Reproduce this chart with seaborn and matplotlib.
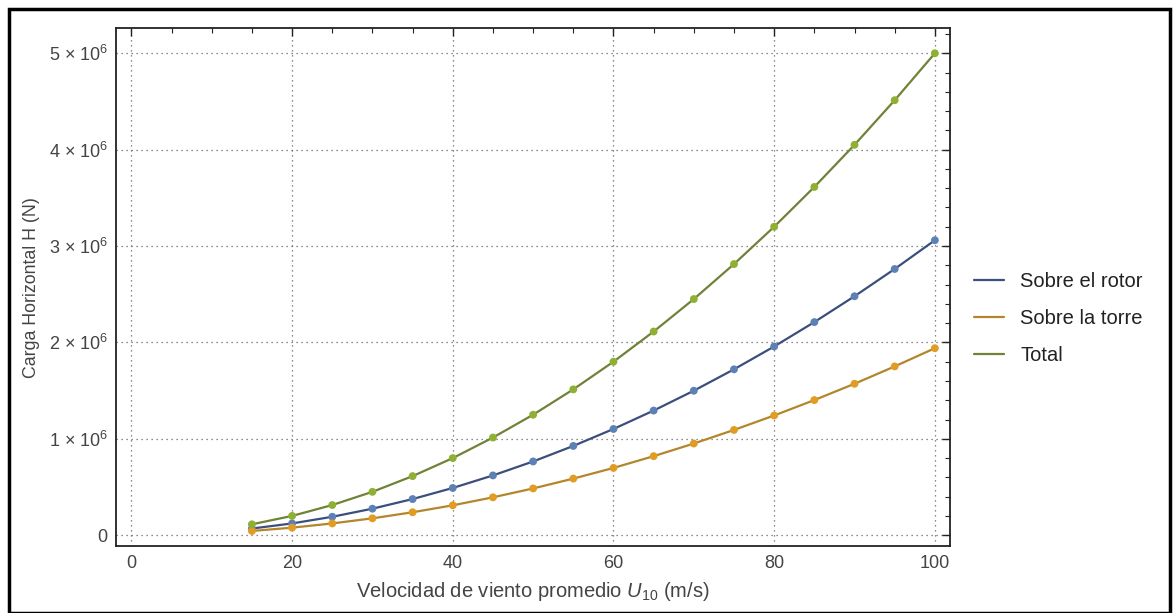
import pandas as pd
import seaborn as sns
import matplotlib.pyplot as plt
import matplotlib.ticker as mticker
from matplotlib.patches import Rectangle

# Data
velocidad = [15, 20, 25, 30, 35, 40, 45, 50, 55, 60,
             65, 70, 75, 80, 85, 90, 95, 100]

rotor = [0.069, 0.122, 0.191, 0.275, 0.375, 0.490, 0.620, 0.765, 0.926,
         1.102, 1.293, 1.499, 1.721, 1.958, 2.211, 2.479, 2.762, 3.060]

torre = [0.044, 0.078, 0.122, 0.175, 0.238, 0.310, 0.393, 0.485, 0.587,
         0.698, 0.820, 0.951, 1.092, 1.242, 1.402, 1.571, 1.751, 1.940]

total = [0.113, 0.200, 0.313, 0.450, 0.613, 0.800, 1.013, 1.250, 1.513,
         1.800, 2.113, 2.450, 2.813, 3.200, 3.613, 4.050, 4.513, 5.000]

series_names = ["Sobre el rotor", "Sobre la torre", "Total"]

line_colors = ["#3b4f7c", "#b3862c", "#6f8238"]
marker_colors = ["#5e81b5", "#e19c24", "#8fb032"]

df = pd.concat([
    pd.DataFrame({"U": velocidad, "H": [v * 1e6 for v in vals], "serie": name})
    for name, vals in zip(series_names, [rotor, torre, total])
])

sns.set_style("white")
plt.rcParams['font.family'] = ['Liberation Sans', 'DejaVu Sans']
plt.rcParams['mathtext.fontset'] = 'custom'
plt.rcParams['mathtext.rm'] = 'Liberation Sans'
plt.rcParams['mathtext.it'] = 'Liberation Sans:italic'

fig = plt.figure(figsize=(11.73, 6.13), dpi=100)
ax = fig.add_axes([0.099, 0.109, 0.711, 0.845])

sns.lineplot(
    data=df, x="U", y="H", hue="serie",
    palette=dict(zip(series_names, line_colors)),
    linewidth=1.6, ax=ax
)

sns.scatterplot(
    data=df, x="U", y="H", hue="serie",
    palette=dict(zip(series_names, marker_colors)),
    s=32, linewidth=0.0,
    legend=False, ax=ax, zorder=3
)

ax.set_xlim(-1.9, 101.9)
ax.set_ylim(-0.114e6, 5.26e6)

ax.xaxis.set_major_locator(mticker.MultipleLocator(20))
ax.xaxis.set_minor_locator(mticker.MultipleLocator(5))
ax.yaxis.set_major_locator(mticker.MultipleLocator(1e6))
ax.yaxis.set_minor_locator(mticker.MultipleLocator(0.2e6))


def fmt_y(v, pos):
    n = int(round(v / 1e6))
    if n == 0:
        return "0"
    return f"{n} \u00d7 10$^{{6}}$"


ax.yaxis.set_major_formatter(mticker.FuncFormatter(fmt_y))

ax.tick_params(which="both", direction="in", top=True, right=True,
               colors="#222222", labelcolor="#444444", labelsize=13)
ax.tick_params(which="major", length=6, width=1, pad=6)
ax.tick_params(which="minor", length=3.5, width=0.8)

for sp in ax.spines.values():
    sp.set_color("#222222")
    sp.set_linewidth(1.3)

ax.grid(True, which="major", linestyle=(0, (1, 3)), color="#666666", linewidth=0.9)

ax.set_xlabel("Velocidad de viento promedio $\\mathit{U}_{10}$ (m/s)",
              fontsize=14.5, color="#444444", labelpad=6)
ax.set_ylabel("Carga Horizontal H (N)", fontsize=12.8, color="#444444", labelpad=6)

handles, labels = ax.get_legend_handles_labels()
ax.legend(handles, labels, loc="center left", bbox_to_anchor=(0.815, 0.48),
          bbox_transform=fig.transFigure, frameon=False, fontsize=14.5,
          handlelength=1.5, labelspacing=0.9, labelcolor="#222222")

# outer black border
fig.patches.append(Rectangle((0.0075, 0.0), 0.99, 0.985, transform=fig.transFigure,
                             fill=False, edgecolor="black", linewidth=2.5))

plt.savefig("out.png", dpi=100)
plt.close()
